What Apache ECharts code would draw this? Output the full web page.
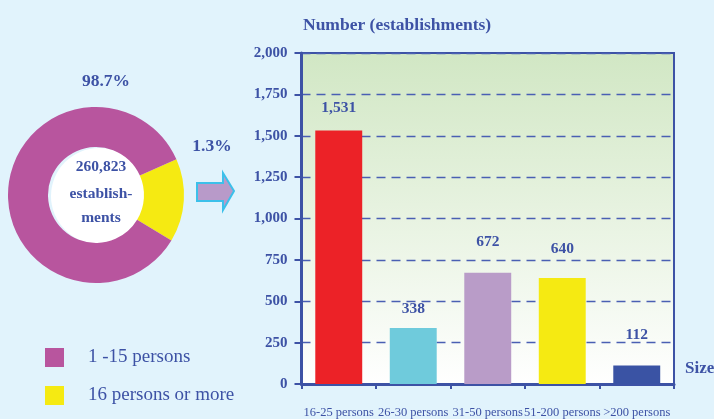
<!DOCTYPE html>
<html><head><meta charset="utf-8">
<script src="https://cdn.jsdelivr.net/npm/echarts@6/dist/echarts.min.js"></script>
<style>html,body{margin:0;padding:0;background:#e1f3fc;}#c{width:714px;height:419px;}</style>
</head><body><div id="c"></div>
<script>
// Data
const categories = ['16-25 persons','26-30 persons','31-50 persons','51-200 persons','>200 persons'];
const values = [1531, 338, 672, 640, 112];
const barColors = ['#ec2227','#6fcbdc','#b99cc8','#f5ea12','#3a53a4'];
const labelGaps = [15, 11, 23, 21, 22];
const pieNames = ['16 persons or more','1 -15 persons'];
const pieValues = [15.3, 84.7];   // slice sizes as drawn in the picture
const pieLabels = ['1.3%','98.7%'];
const pieColors = ['#f5ea12','#b8559e'];
const yTicks = ['0','250','500','750','1,000','1,250','1,500','1,750','2,000'];

const txt = '#3d52a5';
const serif = '"Liberation Serif","Times New Roman",serif';
const chart = echarts.init(document.getElementById('c'));
chart.setOption({
  backgroundColor: '#e1f3fc',
  animation: false,
  title: {text: 'Number (establishments)', left: 298, top: 11,
    textStyle: {fontFamily: serif, fontWeight: 'bold', fontSize: 17.5, color: txt}},
  legend: {orient: 'vertical', left: 40, top: 343, itemWidth: 19, itemHeight: 19, itemGap: 19,
    data: [pieNames[1], pieNames[0]], icon: 'rect',
    textStyle: {fontFamily: serif, fontSize: 19, color: txt, padding: [0,0,0,19]}},
  grid: {left: 301.5, right: 40, top: 53, bottom: 35, show: true, borderColor: txt, borderWidth: 2,
    backgroundColor: new echarts.graphic.LinearGradient(0,0,0,1,[{offset:0,color:'#d1e7c4'},{offset:1,color:'#ffffff'}])},
  xAxis: {type: 'category', data: categories,
    axisLine: {lineStyle: {color: txt, width: 3}},
    axisTick: {show: true, length: 5, lineStyle: {color: txt, width: 2}},
    axisLabel: {interval: 0, fontFamily: serif, fontSize: 12.5, color: txt, margin: 22}},
  yAxis: {type: 'value', min: 0, max: 2000, interval: 250,
    axisLine: {show: true, lineStyle: {color: txt, width: 3}},
    axisTick: {show: true, length: 7, lineStyle: {color: txt, width: 2}},
    axisLabel: {fontFamily: serif, fontSize: 15, fontWeight: 'bold', color: txt, margin: 14,
      formatter: v => yTicks[Math.round(v/250)]},
    splitLine: {lineStyle: {color: '#4a5fb3', type: [9,6], width: 1.3}}},
  series: [
    {type: 'bar', barWidth: '63%',
      data: values.map((v,i)=>({value: v, itemStyle: {color: barColors[i]},
        label: {show: true, position: 'top', distance: labelGaps[i]}})),
      label: {fontFamily: serif, fontSize: 15.5, fontWeight: 'bold', color: txt,
        formatter: p => p.value.toLocaleString('en-US')}},
    {type: 'pie', center: [96, 195], radius: [48, 88], startAngle: 24, clockwise: true,
      label: {show: false}, labelLine: {show: false}, silent: true,
      data: pieNames.map((n,i)=>({name: n, value: pieValues[i], itemStyle: {color: pieColors[i]}}))}
  ],
  graphic: [
    {type: 'circle', shape: {cx: 99, cy: 196, r: 48}, style: {fill: '#ffffff'}, z: 1},
    {type: 'text', x: 106, y: 81, style: {text: pieLabels[1], align: 'center', verticalAlign: 'middle', font: 'bold 17.5px ' + serif, fill: txt}},
    {type: 'text', x: 212, y: 146, style: {text: pieLabels[0], align: 'center', verticalAlign: 'middle', font: 'bold 17.5px ' + serif, fill: txt}},
    {type: 'text', x: 101, y: 167, z: 10, style: {text: '260,823', align: 'center', verticalAlign: 'middle', font: 'bold 15.5px ' + serif, fill: txt}},
    {type: 'text', x: 101, y: 194, z: 10, style: {text: 'establish-', align: 'center', verticalAlign: 'middle', font: 'bold 15.5px ' + serif, fill: txt}},
    {type: 'text', x: 101, y: 218, z: 10, style: {text: 'ments', align: 'center', verticalAlign: 'middle', font: 'bold 15.5px ' + serif, fill: txt}},
    {type: 'polygon', shape: {points: [[197,183],[223,183],[223,173],[234,191],[223,210],[223,201],[197,201]]},
      style: {fill: '#b89ac9', stroke: '#3cc0ea', lineWidth: 2}},
    {type: 'text', x: 685, y: 369, style: {text: 'Size', verticalAlign: 'middle', font: 'bold 17px ' + serif, fill: txt}}
  ]
});
</script></body></html>
